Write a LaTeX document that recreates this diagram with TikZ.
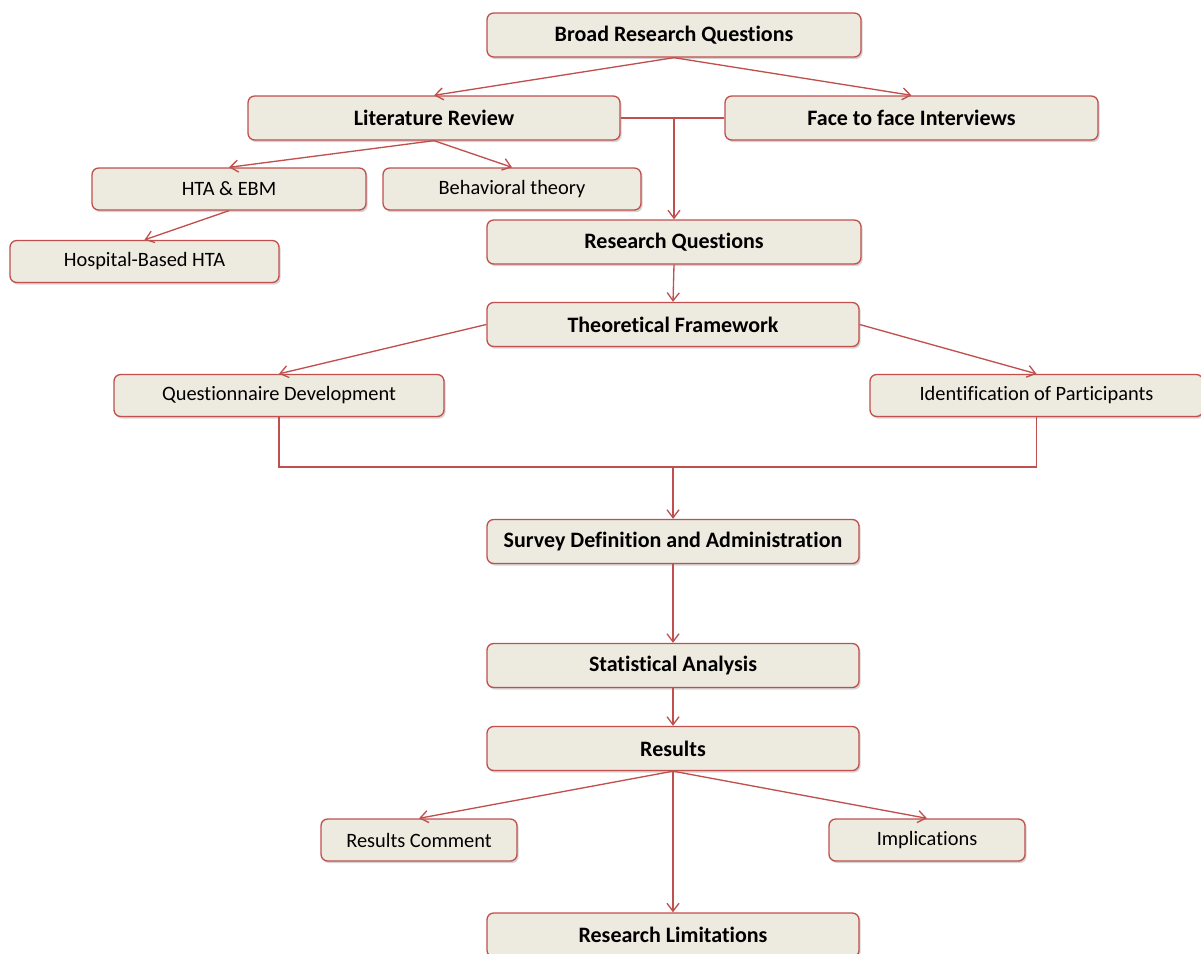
\documentclass[tikz,border=0pt]{standalone}
\usepackage{fontspec}
\setmainfont[Ligatures=NoCommon]{Carlito}
\usetikzlibrary{arrows.meta,shadows}
\definecolor{edgered}{HTML}{C0504D}
\definecolor{boxfill}{HTML}{EDEADF}
\tikzset{
  box/.style={draw=edgered, line width=1pt, fill=boxfill, rounded corners=5pt,
    inner sep=0pt, minimum width=#1*0.75pt,
    drop shadow={shadow xshift=1.2pt, shadow yshift=-1.6pt, opacity=0.28, fill=black!60}},
  bigbox/.style={box=#1, minimum height=44*0.75pt, font=\fontsize{16.5}{18}\selectfont\bfseries},
  smallbox/.style={box=#1, minimum height=42*0.75pt, font=\fontsize{15.3}{17}\selectfont},
  link/.style={draw=edgered, line width=1pt},
  arrow/.style={link, -{Straight Barb[length=6pt,width=9pt,line width=1pt]}},
}
\begin{document}
\begin{tikzpicture}[x=0.75pt, y=-0.75pt]
\path[use as bounding box] (0,0) rectangle (1201,953);

% stage boxes
\node[bigbox=374] (broad) at (674,35) {Broad Research Questions};
\node[bigbox=372] (lit) at (434,118) {Literature Review};
\node[bigbox=373] (face) at (911.5,118) {Face to face Interviews};
\node[smallbox=274] (hta) at (229,189) {HTA \& EBM};
\node[smallbox=258] (beh) at (512,189) {Behavioral theory};
\node[smallbox=269] (hosp) at (144.5,261.5) {Hospital-Based HTA};
\node[bigbox=374] (rq) at (674,242) {Research Questions};
\node[bigbox=372] (tf) at (673,324.5) {Theoretical Framework};
\node[smallbox=330] (qd) at (279,395.5) {Questionnaire Development};
\node[smallbox=333] (ip) at (1036.5,395.5) {Identification of Participants};
\node[bigbox=372] (sda) at (673,541.5) {Survey Definition and Administration};
\node[bigbox=372] (sa) at (673,665.5) {Statistical Analysis};
\node[bigbox=372] (res) at (673,748.5) {Results};
\node[smallbox=196] (rc) at (419,840) {Results Comment};
\node[smallbox=196] (imp) at (927,840) {Implications};
\node[bigbox=372] (rl) at (673,935) {Research Limitations};

% junction points
\coordinate (j1) at (rq.north |- lit.east);
\coordinate (j2) at (673,467);

% connectors
\draw[arrow] (broad.south) -- (lit.north);
\draw[arrow] (broad.south) -- (face.north);
\draw[link] (lit.east) -- (face.west);
\draw[arrow] (j1) -- (rq.north);
\draw[arrow] (lit.south) -- (hta.north);
\draw[arrow] (lit.south) -- (beh.north);
\draw[arrow] (hta.south) -- (hosp.north);
\draw[arrow] (rq.south) -- (tf.north);
\draw[arrow] (tf.west) -- (qd.north);
\draw[arrow] (tf.east) -- (ip.north);
\draw[link] (qd.south) |- (j2) -| (ip.south);
\draw[arrow] (j2) -- (sda.north);
\draw[arrow] (sda.south) -- (sa.north);
\draw[arrow] (sa.south) -- (res.north);
\draw[arrow] (res.south) -- (rc.north);
\draw[arrow] (res.south) -- (imp.north);
\draw[arrow] (res.south) -- (rl.north);
\end{tikzpicture}
\end{document}
